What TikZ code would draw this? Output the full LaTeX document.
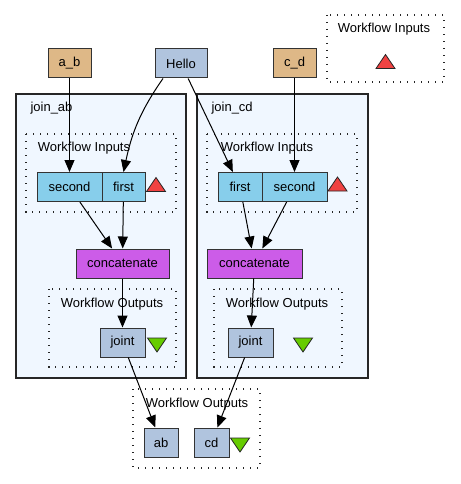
\documentclass[tikz,border=0pt]{standalone}
\usepackage{fontspec}
\setmainfont{Liberation Sans}
\usetikzlibrary{arrows.meta}

\definecolor{tanfill}{RGB}{222,184,135}
\definecolor{steelfill}{RGB}{176,196,222}
\definecolor{skyfill}{RGB}{135,206,235}
\definecolor{orchidfill}{RGB}{204,92,232}
\definecolor{clusterfill}{RGB}{240,247,255}
\definecolor{redtri}{RGB}{240,66,66}
\definecolor{greentri}{RGB}{102,204,0}

\begin{document}
\begin{tikzpicture}[x=1pt,y=1pt,
        font=\fontsize{13}{15}\selectfont,
        box/.style={draw=black!80, line width=1pt, inner sep=0pt, minimum height=29pt},
        cluster/.style={draw=black!85, line width=1.2pt, fill=clusterfill},
        wfbox/.style={draw=black!85, line width=1.4pt, dash pattern=on 1.4pt off 5.6pt},
        edge/.style={-{Triangle[length=12pt,width=10pt]}, line width=1pt},
        tri/.style={draw=black!85, line width=0.8pt}]

        % Рамка рисунка
        \useasboundingbox (0,0) rectangle (460,-484);

        % Подграфы
        \draw[cluster] (16,-94) rectangle (186,-378);
        \draw[cluster] (197,-94) rectangle (368,-378);
        \node[anchor=base west] (labab) at (27,-112) {join\_ab};
        \node[anchor=base west] (labcd) at (208,-112) {join\_cd};

        % Пунктирные блоки
        \draw[wfbox] (327,-15) rectangle (444,-82);
        \draw[wfbox] (26,-134) rectangle (176,-212);
        \draw[wfbox] (207,-134) rectangle (357,-212);
        \draw[wfbox] (49,-289) rectangle (176,-367);
        \draw[wfbox] (214,-289) rectangle (342,-367);
        \draw[wfbox] (133,-389) rectangle (260,-468);
        \node[anchor=base] (wfin) at (384,-33) {Workflow Inputs};
        \node[anchor=base] (wfinab) at (84,-151) {Workflow Inputs};
        \node[anchor=base] (wfincd) at (267,-151) {Workflow Inputs};
        \node[anchor=base] (wfoutab) at (112,-307) {Workflow Outputs};
        \node[anchor=base] (wfoutcd) at (277,-307) {Workflow Outputs};
        \node[anchor=base] (wfout) at (197,-407) {Workflow Outputs};

        % Узлы
        \node[box, fill=tanfill, minimum width=43pt] (abin) at (69.5,-63.5) {a\_b};
        \node[box, fill=steelfill, minimum width=52pt] (hello) at (181,-63.5) {Hello};
        \node[box, fill=tanfill, minimum width=43pt] (cdin) at (294.5,-63.5) {c\_d};
        \node[box, fill=skyfill, minimum width=65pt] (secondab) at (69.5,-187) {second};
        \node[box, fill=skyfill, minimum width=43pt] (firstab) at (123.5,-187) {first};
        \node[box, fill=skyfill, minimum width=44pt] (firstcd) at (240,-187) {first};
        \node[box, fill=skyfill, minimum width=65pt] (secondcd) at (294.5,-187) {second};
        \node[box, fill=orchidfill, minimum width=93pt] (concatab) at (122.5,-263.5) {concatenate};
        \node[box, fill=orchidfill, minimum width=95pt] (concatcd) at (254.5,-263.5) {concatenate};
        \node[box, fill=steelfill, minimum width=45pt] (jointab) at (122.5,-342.5) {joint};
        \node[box, fill=steelfill, minimum width=45pt] (jointcd) at (250.5,-342.5) {joint};
        \node[box, fill=steelfill, minimum width=34pt] (about) at (161,-442.5) {ab};
        \node[box, fill=steelfill, minimum width=35pt] (cdout) at (211.5,-442.5) {cd};

        % Треугольники
        \foreach \x/\y in {385.5/61.5, 156/184.5, 337.5/184}
            \draw[tri, fill=redtri] (\x-9.5,-\y-7) -- (\x+9.5,-\y-7) -- (\x,-\y+7) -- cycle;
        \foreach \x/\y in {157/345, 303/345, 240/445}
            \draw[tri, fill=greentri] (\x-9.5,-\y+7) -- (\x+9.5,-\y+7) -- (\x,-\y-7) -- cycle;

        % Связи
        \draw[edge] (abin) -- (secondab);
        \draw[edge] ([xshift=-18pt]hello.south) to[out=-125,in=78] (firstab.north);
        \draw[edge] (hello) -- (firstcd);
        \draw[edge] (cdin) -- (secondcd);
        \draw[edge] (secondab) -- (concatab);
        \draw[edge] (firstab) -- (concatab);
        \draw[edge] (firstcd) -- (concatcd);
        \draw[edge] (secondcd) -- (concatcd);
        \draw[edge] (concatab) -- (jointab);
        \draw[edge] (concatcd) -- (jointcd);
        \draw[edge] (jointab) -- (about);
        \draw[edge] (jointcd) -- (cdout);
\end{tikzpicture}
\end{document}
